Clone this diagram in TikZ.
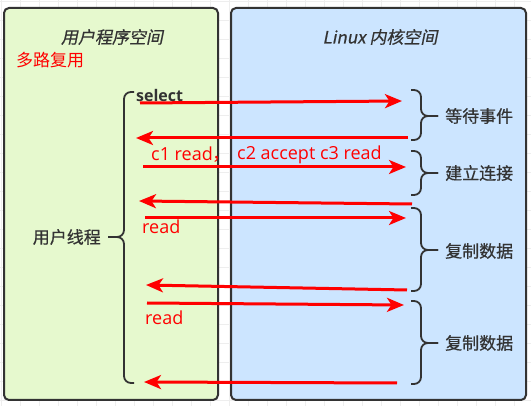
\documentclass[tikz,border=0pt]{standalone}
\usepackage{fontspec}
\setmainfont{Open Sans}
\newfontfamily\cjk{Noto Sans CJK SC}[FakeBold=0.6]
\newfontfamily\cjkplain{Noto Sans CJK SC}
\newfontfamily\cjkit{Noto Sans CJK SC}[FakeSlant=0.2,FakeBold=0.6]
\usetikzlibrary{arrows.meta}
\definecolor{ink}{HTML}{333333}
\definecolor{usergreen}{HTML}{E6F9CE}
\definecolor{kernelblue}{HTML}{CCE5FF}
\definecolor{gridgray}{HTML}{EEEEEE}
\tikzset{
  panel/.style={draw=ink, line width=2pt, rounded corners=5pt},
  msg/.style={draw=red, line width=3pt, -{Stealth[length=17pt,width=14pt,inset=4.5pt]}},
  bracepath/.style={draw=ink, line width=1.8pt, rounded corners=7pt},
  title/.style={font=\fontsize{17}{20}\selectfont\cjkit, text=ink, inner sep=0pt},
  lab/.style={font=\fontsize{17}{20}\selectfont\cjk, text=ink, inner sep=0pt},
  redtxt/.style={font=\fontsize{18}{21}\selectfont, text=red, inner sep=0pt},
}
\begin{document}
\begin{tikzpicture}[x=1pt,y=-1pt]
\useasboundingbox (0,0) rectangle (531,406);
\fill[white] (0,0) rectangle (531,406);
\draw[gridgray, line width=0.6pt, step=19pt, shift={(1,1)}] (-1,-1) grid (531,406);
% panels
\path[panel, fill=usergreen] (4,8) rectangle (218,400);
\path[panel, fill=kernelblue] (231,8) rectangle (526,400);
% titles
\node[title] (ut) at (112,37) {用户程序空间};
\node[title] (kt) at (380,37) {\textit{Linux} 内核空间};
\node[font=\fontsize{17}{20}\selectfont\cjkplain, text=red, inner sep=0pt, anchor=west] (mux) at (16,60) {多路复用};
% user thread brace
\draw[bracepath] (134,92) -| (124,237) -- (108,237);
\draw[bracepath] (134,383) -| (124,237) -- (108,237);
\node[lab, anchor=east] (uth) at (101,237) {用户线程};
% select
\node[font=\fontsize{16}{19}\selectfont\bfseries, text=ink, inner sep=0pt, anchor=west] (sel) at (136,96) {select};
% arrow end coordinates
\coordinate (a1s) at (140,103); \coordinate (a1e) at (402,101);
\coordinate (a2s) at (408,138); \coordinate (a2e) at (136,138);
\coordinate (a3s) at (143,167); \coordinate (a3e) at (406,167);
\coordinate (a4s) at (412,204); \coordinate (a4e) at (139,201);
\coordinate (a5s) at (145,218); \coordinate (a5e) at (406,218);
\coordinate (a6s) at (407,290); \coordinate (a6e) at (146,285);
\coordinate (a7s) at (147,303); \coordinate (a7e) at (404,305);
\coordinate (a8s) at (397,383); \coordinate (a8e) at (144,382);
\draw[msg] (a1s) -- (a1e);
\draw[msg] (a2s) -- (a2e);
\draw[msg] (a3s) -- (a3e);
\draw[msg] (a4s) -- (a4e);
\draw[msg] (a5s) -- (a5e);
\draw[msg] (a6s) -- (a6e);
\draw[msg] (a7s) -- (a7e);
\draw[msg] (a8s) -- (a8e);
% red labels
\node[redtxt, anchor=west] (c1) at (151,155) {c1 read{\cjkplain ，}};
\node[redtxt, anchor=west] (c2) at (237,155) {c2 accept c3 read};
\node[redtxt, anchor=west] (r1) at (142,227) {read};
\node[redtxt, anchor=west] (r2) at (145,318) {read};
% kernel braces
\draw[bracepath] (411,90) -| (421,116) -- (438,116);
\draw[bracepath] (411,140) -| (421,116) -- (438,116);
\node[lab, anchor=west] (wait) at (445,116) {等待事件};
\draw[bracepath] (411,151) -| (421,173) -- (438,173);
\draw[bracepath] (411,195) -| (421,173) -- (438,173);
\node[lab, anchor=west] (conn) at (445,173) {建立连接};
\draw[bracepath] (411,208) -| (421,250) -- (438,250);
\draw[bracepath] (411,291) -| (421,250) -- (438,250);
\node[lab, anchor=west] (copy1) at (445,251) {复制数据};
\draw[bracepath] (411,301) -| (421,343) -- (438,343);
\draw[bracepath] (411,384) -| (421,343) -- (438,343);
\node[lab, anchor=west] (copy2) at (445,343) {复制数据};
\end{tikzpicture}
\end{document}
